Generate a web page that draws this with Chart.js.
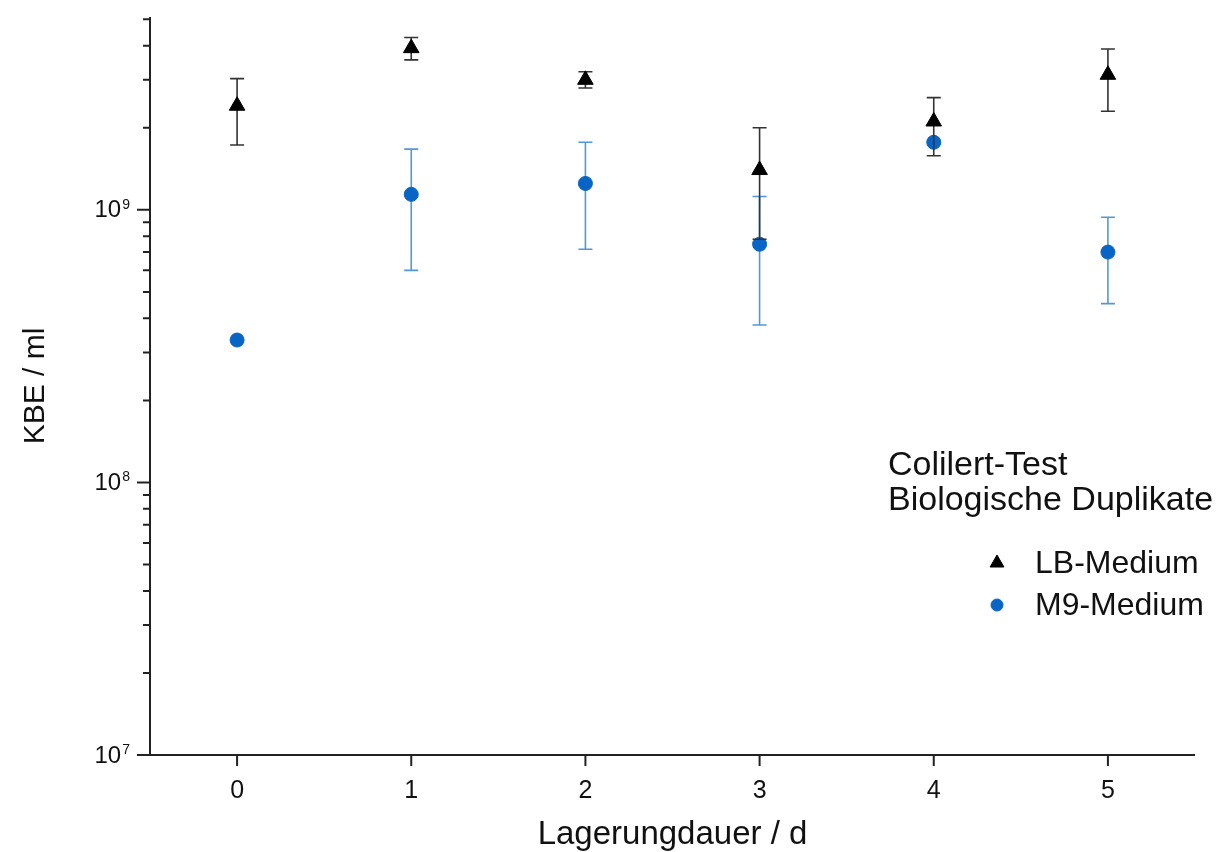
<!DOCTYPE html>
<html>
<head>
<meta charset="utf-8">
<script src="https://cdn.jsdelivr.net/npm/chart.js@4"></script>
<style>
  body { margin: 0; background: #fff; }
  #wrap { width: 1219px; height: 852px; }
</style>
</head>
<body>
<div id="wrap"><canvas id="kbeChart" width="1219" height="852"></canvas></div>
<script>
// Lagerungdauer (Tage)
const days = [0, 1, 2, 3, 4, 5]

// LB-Medium: Mittelwert + Fehlergrenzen (KBE / ml)
const lbMean = [2.41e9, 3.92e9, 3.0e9, 1.40e9, 2.11e9, 3.13e9]
const lbLow  = [1.73e9, 3.55e9, 2.80e9, 0.78e9, 1.58e9, 2.30e9]
const lbHigh = [3.03e9, 4.29e9, 3.21e9, 2.0e9, 2.58e9, 3.89e9]

// M9-Medium
const m9Mean = [3.33e8, 1.14e9, 1.25e9, 7.48e8, 1.77e9, 7.0e8]
const m9Low  = [3.33e8, 6.0e8, 7.17e8, 3.78e8, 1.77e9, 4.53e8]
const m9High = [3.33e8, 1.67e9, 1.77e9, 1.12e9, 1.77e9, 0.94e9]

const yDecades = [7, 8, 9]
const legendTitle = ['Colilert-Test', 'Biologische Duplikate']
const seriesNames = ['LB-Medium', 'M9-Medium']

const blue = '#0865c6'
const blueBar = '#5298d8'
const font = '"Liberation Sans", Arial, sans-serif'

const toPoints = (mean) => days.map((d, i) => ({ x: d, y: mean[i] }))

// Fehlerbalken direkt vor den Punkten des jeweiligen Datensatzes
const errorBars = {
    id: 'errorBars',
    beforeDatasetDraw(chart, args) {
        const ds = chart.data.datasets[args.index]
        if (!ds.errLow) return
        const ctx = chart.ctx
        const xs = chart.scales.x
        const ys = chart.scales.y
        ctx.save()
        ctx.strokeStyle = ds.barColor
        ctx.lineWidth = 1.6
        days.forEach((d, i) => {
            if (ds.errHigh[i] === ds.errLow[i]) return
            const px = xs.getPixelForValue(d)
            const top = ys.getPixelForValue(ds.errHigh[i])
            const bot = ys.getPixelForValue(ds.errLow[i])
            ctx.beginPath()
            ctx.moveTo(px, top); ctx.lineTo(px, bot)
            ctx.moveTo(px - 7, top); ctx.lineTo(px + 7, top)
            ctx.moveTo(px - 7, bot); ctx.lineTo(px + 7, bot)
            ctx.stroke()
        })
        ctx.restore()
    }
}

// Achsen, Teilstriche, y-Beschriftung mit Exponent und Legende
const axesAndLegend = {
    id: 'axesAndLegend',
    afterDraw(chart) {
        const ctx = chart.ctx
        const { left, right, top, bottom } = chart.chartArea
        const xs = chart.scales.x
        const ys = chart.scales.y
        ctx.save()
        ctx.strokeStyle = '#222'
        ctx.lineWidth = 2
        ctx.beginPath()
        ctx.moveTo(left, top); ctx.lineTo(left, bottom)
        ctx.moveTo(left, bottom); ctx.lineTo(right, bottom)
        days.forEach(d => {
            const px = xs.getPixelForValue(d)
            ctx.moveTo(px, bottom); ctx.lineTo(px, bottom + 11)
        })
        yDecades.forEach(e => {
            for (let m = 1; m <= 9; m++) {
                const v = m * Math.pow(10, e)
                if (v > ys.max) break
                const py = ys.getPixelForValue(v)
                ctx.moveTo(left, py); ctx.lineTo(left - (m === 1 ? 13 : 7), py)
            }
        })
        ctx.stroke()

        ctx.fillStyle = '#111'
        yDecades.forEach(e => {
            const py = ys.getPixelForValue(Math.pow(10, e))
            ctx.font = '14px ' + font
            const supW = ctx.measureText(String(e)).width
            ctx.textAlign = 'left'
            ctx.textBaseline = 'alphabetic'
            ctx.fillText(String(e), 130 - supW, py - 1)
            ctx.font = '24px ' + font
            ctx.textAlign = 'right'
            ctx.textBaseline = 'middle'
            ctx.fillText('10', 129 - supW, py + 1)
        })

        ctx.textAlign = 'left'
        ctx.textBaseline = 'alphabetic'
        ctx.font = '34px ' + font
        ctx.fillText(legendTitle[0], 888, 475)
        ctx.fillText(legendTitle[1], 888, 510)

        ctx.font = '32px ' + font
        ctx.textBaseline = 'middle'
        const entries = [
            { y: 563, style: 'triangle', r: 8, color: '#000' },
            { y: 605, style: 'circle', r: 6, color: blue }
        ]
        entries.forEach((en, i) => {
            ctx.fillStyle = en.color
            ctx.strokeStyle = en.color
            ctx.lineWidth = 1
            Chart.helpers.drawPoint(ctx, { pointStyle: en.style, radius: en.r, borderWidth: 1 }, 997, en.y)
            ctx.fillStyle = '#111'
            ctx.fillText(seriesNames[i], 1035, en.y + 1)
        })
        ctx.restore()
    }
}

new Chart(document.querySelector('#kbeChart'), {
    type: 'scatter',
    data: {
        datasets: [
            {
                label: seriesNames[0],
                data: toPoints(lbMean),
                errLow: lbLow,
                errHigh: lbHigh,
                barColor: '#333',
                pointStyle: 'triangle',
                pointRadius: 9,
                pointHoverRadius: 9,
                backgroundColor: '#000',
                borderColor: '#000',
                borderWidth: 1
            },
            {
                label: seriesNames[1],
                data: toPoints(m9Mean),
                errLow: m9Low,
                errHigh: m9High,
                barColor: blueBar,
                pointStyle: 'circle',
                pointRadius: 7,
                pointHoverRadius: 7,
                backgroundColor: blue,
                borderColor: blue,
                borderWidth: 1
            }
        ]
    },
    options: {
        responsive: false,
        devicePixelRatio: 1,
        animation: false,
        events: [],
        layout: { padding: { top: 17, right: 24, left: 0, bottom: 0 } },
        plugins: {
            legend: { display: false },
            tooltip: { enabled: false }
        },
        scales: {
            x: {
                type: 'linear',
                min: -0.5,
                max: 5.5,
                afterBuildTicks: scale => { scale.ticks = days.map(d => ({ value: d })) },
                afterFit: scale => { scale.height = 97 },
                grid: { display: false, drawTicks: false, tickLength: 0 },
                border: { display: false },
                ticks: {
                    padding: 21,
                    color: '#111',
                    font: { family: font, size: 25 },
                    callback: v => String(v)
                },
                title: {
                    display: true,
                    text: 'Lagerungdauer / d',
                    color: '#111',
                    font: { family: font, size: 33, lineHeight: 1.0 },
                    padding: { top: 0, bottom: 1 }
                }
            },
            y: {
                type: 'logarithmic',
                min: 1e7,
                max: 5.1e9,
                afterFit: scale => { scale.width = 150 },
                grid: { display: false, drawTicks: false },
                border: { display: false },
                ticks: { display: false },
                title: {
                    display: true,
                    text: 'KBE / ml',
                    color: '#111',
                    font: { family: font, size: 30 },
                    padding: { top: 18, bottom: 0 }
                }
            }
        }
    },
    plugins: [errorBars, axesAndLegend]
})
</script>
</body>
</html>
